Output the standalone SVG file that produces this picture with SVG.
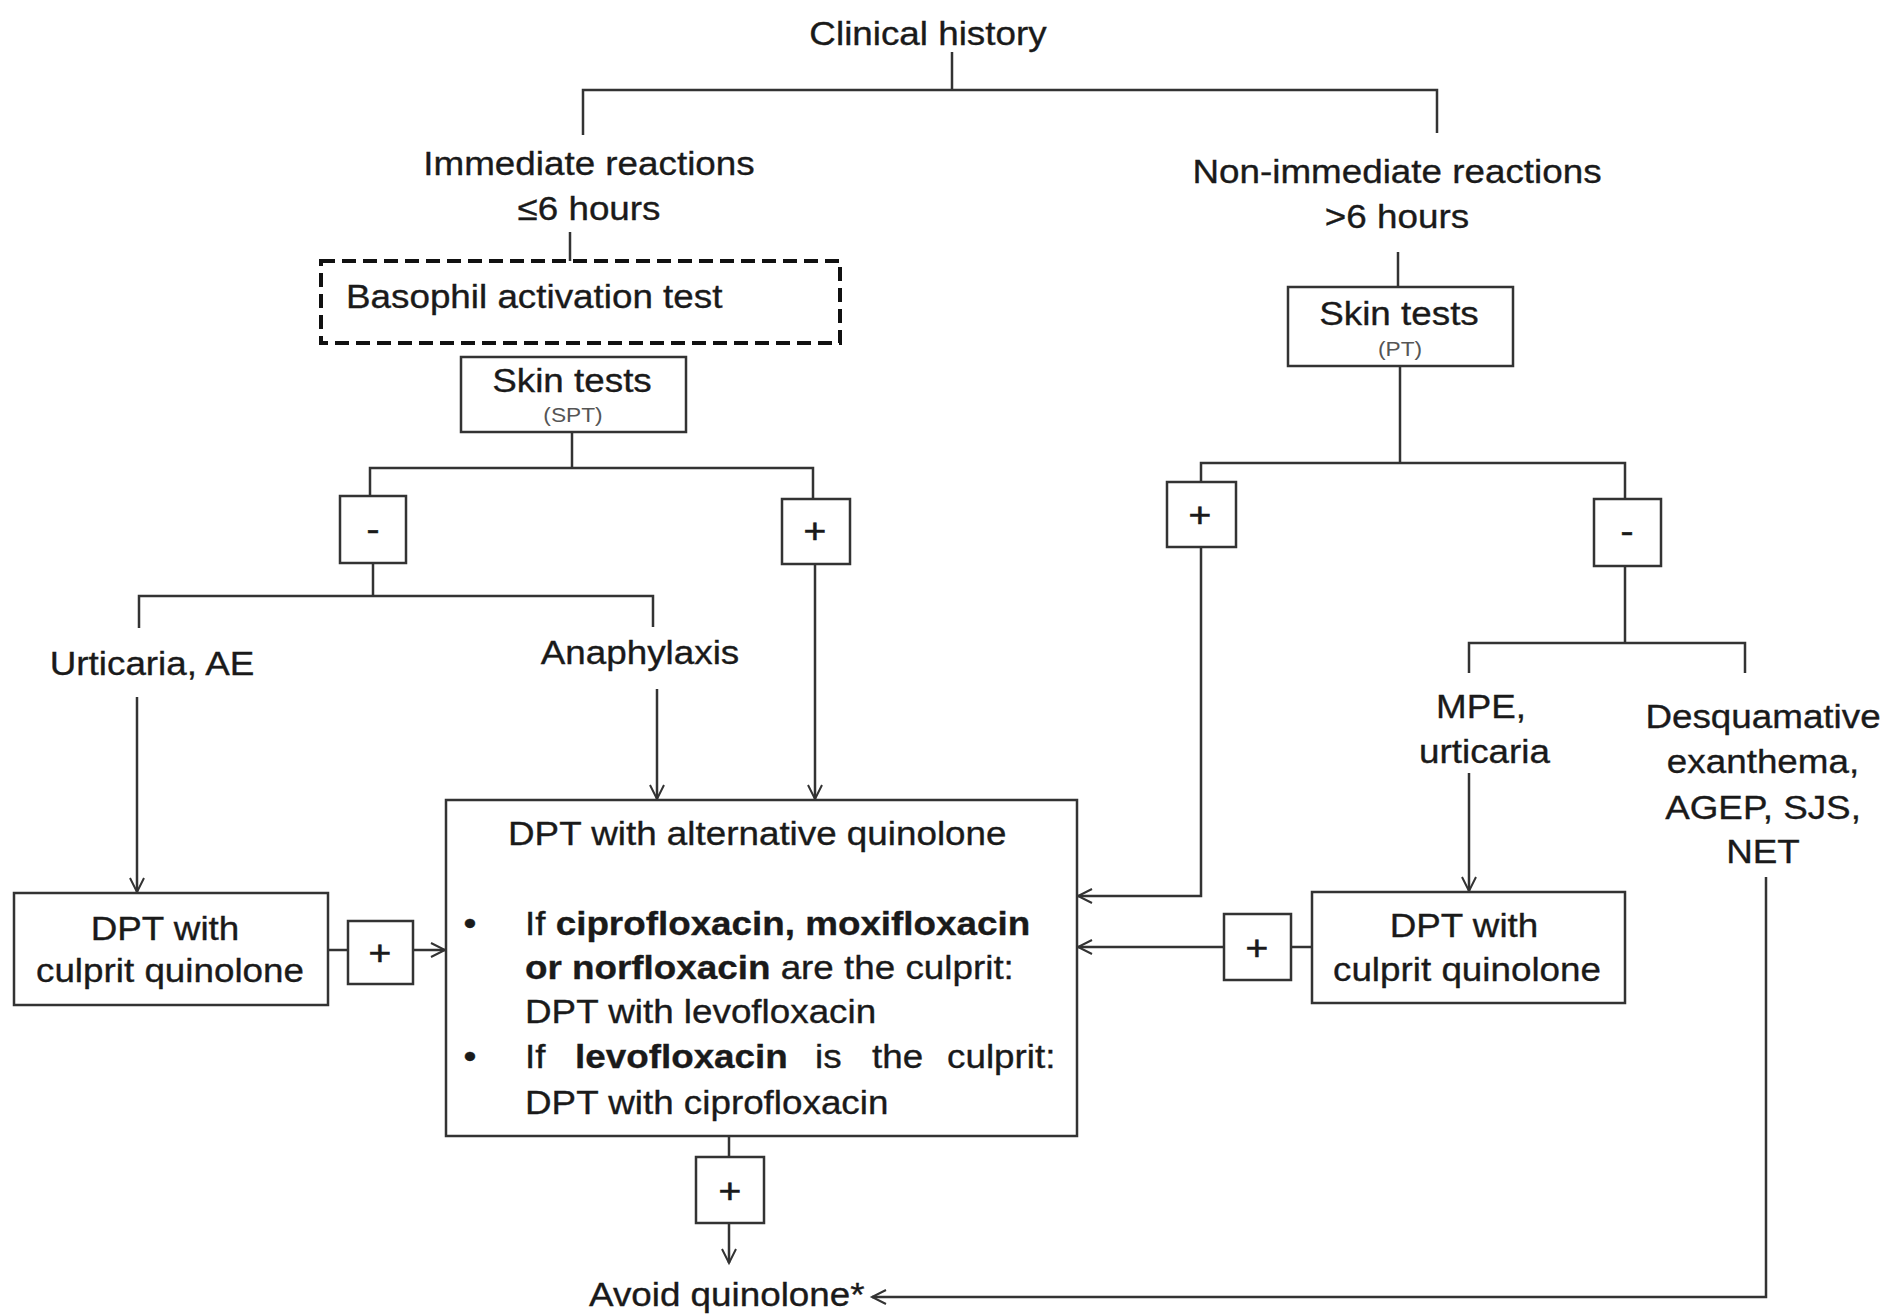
<svg xmlns="http://www.w3.org/2000/svg" width="1889" height="1315" viewBox="0 0 1889 1315">
<defs>
<style>
.t{font-family:"Liberation Sans",Arial,sans-serif;font-size:34px;fill:#1a1a1a;stroke:#1a1a1a;stroke-width:0.35}
.m{text-anchor:middle}
.b{font-weight:bold}
.s{font-size:21px;fill:#555;stroke:none}
.sg{font-family:"Liberation Sans",Arial,sans-serif;font-size:36px;fill:#1a1a1a;stroke:#1a1a1a;stroke-width:0.6;text-anchor:middle}
.box{fill:#fff;stroke:#333;stroke-width:2.5}
.dash{fill:#fff;stroke:#111;stroke-width:4;stroke-dasharray:14 7}
.ln{fill:none;stroke:#333;stroke-width:2.5}
.ar{marker-end:url(#arr)}
</style>
<marker id="arr" markerUnits="userSpaceOnUse" markerWidth="18" markerHeight="18" refX="15" refY="8" orient="auto">
<path d="M1,1 L15,8 L1,15" fill="none" stroke="#333" stroke-width="2"/>
</marker>
</defs>
<rect width="1889" height="1315" fill="#fff"/>

<g id="connectors">
<path class="ln" d="M952,52 V90"/>
<path class="ln" d="M583,135 V90 H1437 V133"/>
<path class="ln" d="M570,232 V261"/>
<path class="ln" d="M572,432 V468"/>
<path class="ln" d="M370,496 V468 H813 V499"/>
<path class="ln" d="M373,563 V596"/>
<path class="ln" d="M139,628 V596 H653 V627"/>
<path class="ln ar" d="M137,697 V892"/>
<path class="ln ar" d="M657,689 V799"/>
<path class="ln ar" d="M815,564 V799"/>
<path class="ln" d="M328,950 H348"/>
<path class="ln ar" d="M413,950 H445"/>
<path class="ln" d="M1398,252 V287"/>
<path class="ln" d="M1400,366 V463"/>
<path class="ln" d="M1201,482 V463 H1625 V499"/>
<path class="ln ar" d="M1201,547 V896 H1078"/>
<path class="ln" d="M1625,567 V643"/>
<path class="ln" d="M1469,673 V643 H1745 V673"/>
<path class="ln ar" d="M1469,773 V891"/>
<path class="ln" d="M1312,947 H1291"/>
<path class="ln ar" d="M1224,947 H1078"/>
<path class="ln" d="M729,1136 V1157"/>
<path class="ln ar" d="M729,1223 V1263"/>
<path class="ln ar" d="M1766,877 V1297 H872"/>
</g>

<g id="clinical-history">
<text class="t m" transform="translate(928 45) scale(1.083 1)">Clinical history</text>
</g>

<g id="immediate">
<text class="t m" transform="translate(589 175) scale(1.083 1)"><tspan x="0" y="0">Immediate reactions</tspan><tspan x="0" y="45">≤6 hours</tspan></text>
</g>

<g id="non-immediate">
<text class="t m" transform="translate(1397 183) scale(1.083 1)"><tspan x="0" y="0">Non-immediate reactions</tspan><tspan x="0" y="45">&gt;6 hours</tspan></text>
</g>

<g id="bat">
<rect class="dash" x="321" y="261" width="519" height="82"/>
<text class="t" transform="translate(346 308) scale(1.083 1)">Basophil activation test</text>
</g>

<g id="skin-spt">
<rect class="box" x="461" y="357" width="225" height="75"/>
<text class="t m" transform="translate(572 392) scale(1.083 1)">Skin tests</text>
<text class="t s m" transform="translate(573 422) scale(1.083 1)">(SPT)</text>
</g>

<g id="skin-pt">
<rect class="box" x="1288" y="287" width="225" height="79"/>
<text class="t m" transform="translate(1399 325) scale(1.083 1)">Skin tests</text>
<text class="t s m" transform="translate(1400 356) scale(1.083 1)">(PT)</text>
</g>

<g id="spt-neg">
<rect class="box" x="340" y="496" width="66" height="67"/>
<text class="sg" transform="translate(373 541) scale(1.083 1)">-</text>
</g>

<g id="spt-pos">
<rect class="box" x="782" y="499" width="68" height="65"/>
<text class="sg" transform="translate(815 543) scale(1.083 1)">+</text>
</g>

<g id="pt-pos">
<rect class="box" x="1167" y="482" width="69" height="65"/>
<text class="sg" transform="translate(1200 527) scale(1.083 1)">+</text>
</g>

<g id="pt-neg">
<rect class="box" x="1594" y="499" width="67" height="67"/>
<text class="sg" transform="translate(1627 543) scale(1.083 1)">-</text>
</g>

<g id="urticaria-ae">
<text class="t m" transform="translate(152 675) scale(1.083 1)">Urticaria, AE</text>
</g>

<g id="anaphylaxis">
<text class="t m" transform="translate(640 664) scale(1.083 1)">Anaphylaxis</text>
</g>

<g id="dpt-culprit-left">
<rect class="box" x="14" y="893" width="314" height="112"/>
<text class="t m" transform="translate(165 940) scale(1.083 1)">DPT with</text>
<text class="t m" transform="translate(170 982) scale(1.083 1)">culprit quinolone</text>
</g>

<g id="pos-left">
<rect class="box" x="348" y="921" width="65" height="63"/>
<text class="sg" transform="translate(380 965) scale(1.083 1)">+</text>
</g>

<g id="dpt-alternative">
<rect class="box" x="446" y="800" width="631" height="336"/>
<text class="t" transform="translate(508 845) scale(1.083 1)">DPT with alternative quinolone</text>
<text class="t m" transform="translate(470 935) scale(1.083 1)">•</text>
<text class="t" transform="translate(525 935) scale(1.083 1)">If <tspan class="b">ciprofloxacin, moxifloxacin</tspan></text>
<text class="t" transform="translate(525 979) scale(1.083 1)"><tspan class="b">or norfloxacin</tspan> are the culprit:</text>
<text class="t" transform="translate(525 1023) scale(1.083 1)">DPT with levofloxacin</text>
<text class="t m" transform="translate(470 1068) scale(1.083 1)">•</text>
<text class="t" transform="translate(525 1068) scale(1.083 1)"><tspan x="0">If</tspan><tspan class="b" x="46.2">levofloxacin</tspan><tspan x="267.8">is</tspan><tspan x="320.4">the</tspan><tspan x="389.7">culprit:</tspan></text>
<text class="t" transform="translate(525 1114) scale(1.083 1)">DPT with ciprofloxacin</text>
</g>

<g id="mpe-urticaria">
<text class="t m" transform="translate(1481 718) scale(1.083 1)"><tspan x="0" y="0">MPE,</tspan><tspan x="3.2" y="45">urticaria</tspan></text>
</g>

<g id="desquamative">
<text class="t m" transform="translate(1763 728) scale(1.083 1)"><tspan x="0" y="0">Desquamative</tspan><tspan x="0" y="45">exanthema,</tspan><tspan x="0" y="91">AGEP, SJS,</tspan><tspan x="0" y="135">NET</tspan></text>
</g>

<g id="dpt-culprit-right">
<rect class="box" x="1312" y="892" width="313" height="111"/>
<text class="t m" transform="translate(1464 937) scale(1.083 1)">DPT with</text>
<text class="t m" transform="translate(1467 981) scale(1.083 1)">culprit quinolone</text>
</g>

<g id="pos-right">
<rect class="box" x="1224" y="914" width="67" height="66"/>
<text class="sg" transform="translate(1257 960) scale(1.083 1)">+</text>
</g>

<g id="pos-bottom">
<rect class="box" x="696" y="1157" width="68" height="66"/>
<text class="sg" transform="translate(730 1203) scale(1.083 1)">+</text>
</g>

<g id="avoid">
<text class="t" transform="translate(589 1306) scale(1.083 1)">Avoid quinolone*</text>
</g>
</svg>
